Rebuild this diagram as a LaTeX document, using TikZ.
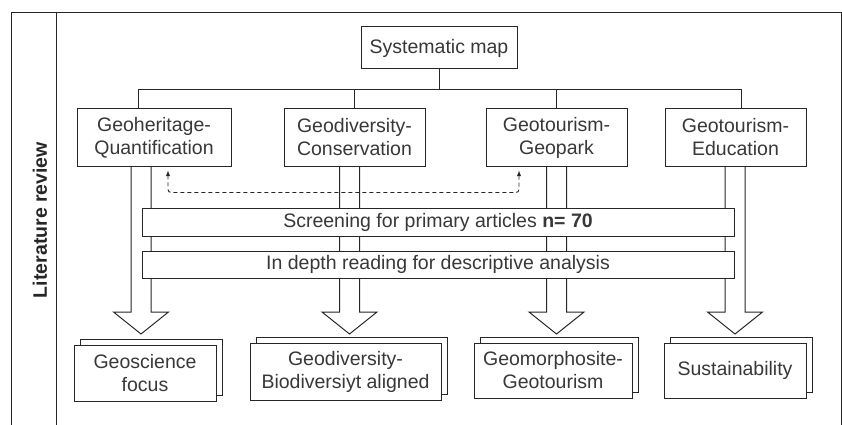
\documentclass[tikz,border=0pt]{standalone}
\usepackage{fontspec}
\setmainfont{Liberation Sans}
\usetikzlibrary{shadows,calc}

\begin{document}
\begin{tikzpicture}[x=1pt,y=-1pt,
        line/.style={draw=black!85,line width=1pt},
        box/.style={line,fill=white,text=black!78,align=center,inner sep=0pt,
            font=\fontsize{19.5}{23}\selectfont},
        stackbox/.style={box,copy shadow={shadow xshift=6pt,shadow yshift=6pt}},
        blockarrow/.style={line,fill=white,line join=miter}]
                \useasboundingbox (0,0) rectangle (842,425);
                % frame
                \draw [line] (11,440) -- (11,13) -- (841,13) -- (841,440);
                \draw [line] (56,13) -- (56,440);
                \node [rotate=90,text=black!85,font=\bfseries\fontsize{19.5}{23}\selectfont] (title) at (40,220) {Literature review};
                % big arrows
                \foreach \x in {141,349.5,556.5,735}
                    \draw [blockarrow] (\x-10,166) -- (\x-10,312) -- (\x-27.5,312) -- (\x,334) -- (\x+27.5,312) -- (\x+10,312) -- (\x+10,166);
                % boxes
                \node [box,minimum width=156pt,minimum height=42pt] (map) at (439,48) {Systematic map};
                \node [box,minimum width=154pt,minimum height=57pt] (qa) at (154,137.5) {Geoheritage-\\Quantification};
                \node [box,minimum width=141pt,minimum height=57pt] (gc) at (354.5,137.5) {Geodiversity-\\Conservation};
                \node [box,minimum width=141pt,minimum height=57pt] (gp) at (556.5,137.5) {Geotourism-\\Geopark};
                \node [box,minimum width=141pt,minimum height=57pt] (ge) at (735.5,137.5) {Geotourism-\\Education};
                \draw [line] (map.south) -- ++(0,20) coordinate (hub);
                \draw [line] ($(qa.north)+(-16,0)$) |- (hub) -| ($(ge.north)+(5.5,0)$);
                \draw [line] (gc.north) -- (gc.north |- hub);
                \draw [line] (gp.north) -- (gp.north |- hub);
                \draw [latex-latex,draw=black!85,line width=0.9pt,dash pattern=on 4pt off 3pt,rounded corners=3pt] ($(qa.south)+(14,4)$) -- ++(0,22) -| ($(gp.south)+(-37.5,4)$);
                \node [box,minimum width=592pt,minimum height=28pt] (screen) at (438,222) {Screening for primary articles \textbf{n= 70}};
                \node [box,minimum width=592pt,minimum height=27pt] (depth) at (438,264.5) {In depth reading for descriptive analysis};
                % results
                \node [stackbox,minimum width=142pt,minimum height=56pt] (gf) at (145,373) {Geoscience\\focus};
                \node [stackbox,minimum width=191pt,minimum height=57pt] (gb) at (345.5,371.5) {Geodiversity-\\Biodiversiyt aligned};
                \node [stackbox,minimum width=158pt,minimum height=55pt] (gg) at (553,370.5) {Geomorphosite-\\Geotourism};
                \node [stackbox,minimum width=142pt,minimum height=55pt] (su) at (735,370.5) {Sustainability};
            \end{tikzpicture}
\end{document}
